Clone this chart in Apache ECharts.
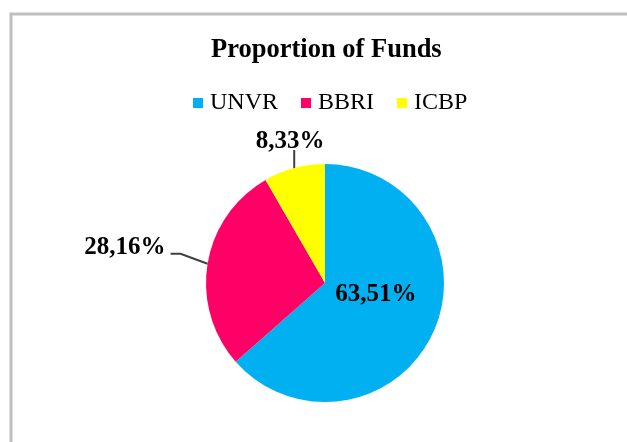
<!DOCTYPE html>
<html>
<head>
<meta charset="utf-8">
<script src="https://cdn.jsdelivr.net/npm/echarts@6/dist/echarts.min.js"></script>
<style>
html,body{margin:0;padding:0;background:#fff;}
#chart{width:627px;height:442px;}
</style>
</head>
<body>
<div id="chart"></div>
<script>
var titleText = 'Proportion of Funds';
var categories = ['UNVR', 'BBRI', 'ICBP'];
var values = [63.51, 28.16, 8.33];
var colors = ['#00B0F0', '#FF0066', '#FFFF00'];

var serif = '"Liberation Serif", "Times New Roman", serif';
var chart = echarts.init(document.getElementById('chart'));

var data = categories.map(function (c, i) {
  var item = { name: c, value: values[i], itemStyle: { color: colors[i] } };
  if (i === 0) {
    item.label = { position: 'inside' };
  } else if (i === 1) {
    item.labelLine = { length: 24, length2: 16 };
  } else {
    item.labelLine = { length: 20, length2: 0 };
  }
  return item;
});

chart.setOption({
  animation: false,
  backgroundColor: '#fff',
  title: {
    text: titleText,
    left: 206,
    top: 32,
    textStyle: { fontFamily: serif, fontWeight: 'bold', fontSize: 26.5, color: '#000' }
  },
  legend: {
    data: categories,
    top: 86,
    left: 188,
    icon: 'rect',
    itemWidth: 10,
    itemHeight: 10,
    itemGap: 23,
    textStyle: { fontFamily: serif, fontSize: 24, color: '#000', padding: [0, 0, 0, 2] }
  },
  graphic: [{
    type: 'rect',
    shape: { x: 11, y: 14, width: 800, height: 600 },
    style: { fill: 'none', stroke: '#bfbfbf', lineWidth: 3 },
    silent: true
  }],
  series: [{
    type: 'pie',
    center: [325, 283],
    radius: 119,
    startAngle: 90,
    clockwise: true,
    data: data,
    label: {
      show: true,
      formatter: function (p) { return p.value.toFixed(2).replace('.', ',') + '%'; },
      fontFamily: serif,
      fontWeight: 'bold',
      fontSize: 25,
      color: '#000'
    },
    labelLine: {
      show: true,
      lineStyle: { color: '#404040', width: 2 }
    },
    labelLayout: function (p) {
      if (p.dataIndex === 0) return { dx: -6, dy: -14 };
      var pts = p.labelLinePoints;
      if (!pts) return {};
      var a = pts[0];
      if (p.dataIndex === 2) {
        var top = [a[0], a[1] - 18];
        return { x: a[0] - 4, y: top[1] + 4, align: 'center', verticalAlign: 'bottom',
                 labelLinePoints: [[a[0], a[1] + 3], top, top] };
      }
      var m = [a[0] - 27, a[1] - 10];
      var e = [m[0] - 10, m[1]];
      return { x: e[0] - 5, y: e[1] + 6, align: 'right', verticalAlign: 'bottom',
               labelLinePoints: [a, m, e] };
    },
    emphasis: { disabled: true }
  }]
});
</script>
</body>
</html>
